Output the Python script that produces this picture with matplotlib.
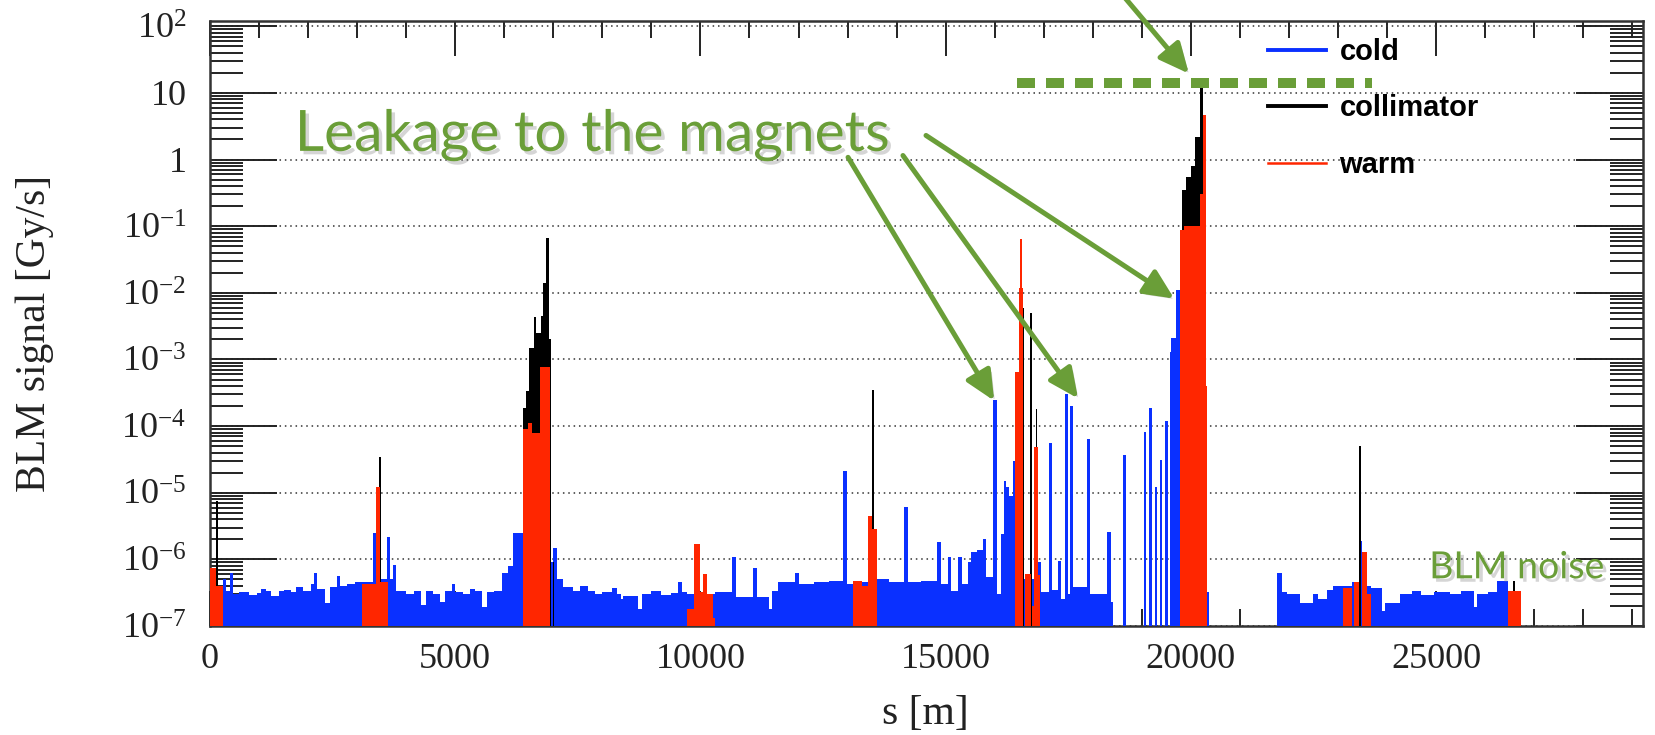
import numpy as np
import matplotlib
matplotlib.use("Agg")
import matplotlib.pyplot as plt
import matplotlib.patheffects as pe
from matplotlib.ticker import FixedLocator, FixedFormatter, LogLocator, MultipleLocator, NullFormatter
from matplotlib.lines import Line2D

# BLM signal along the ring, (left edge of bin [m], signal [Gy/s]); 0 = no monitor
cold_bins = [
    (0, 3.0e-7), (270, 5.0e-7), (330, 3.4e-7), (400, 6.3e-7), (470, 3.0e-7), (600, 3.2e-7), (800, 2.9e-7), (950, 3.1e-7), (1050, 3.6e-7), (1150, 3.3e-7),
    (1250, 2.8e-7), (1400, 3.4e-7), (1500, 3.5e-7), (1650, 3.2e-7), (1750, 3.8e-7), (1900, 3.4e-7), (2050, 4.2e-7), (2120, 6.2e-7), (2180, 3.6e-7), (2350, 2.2e-7),
    (2450, 3.9e-7), (2580, 5.6e-7), (2660, 4.0e-7), (2800, 4.3e-7), (2950, 4.6e-7), (3100, 4.5e-7), (3330, 2.5e-6), (3400, 5.0e-7), (3600, 2.2e-6), (3680, 5.0e-7),
    (3730, 8.3e-7), (3800, 3.3e-7), (4000, 3.0e-7), (4150, 3.4e-7), (4300, 2.1e-7), (4400, 3.4e-7), (4550, 3.0e-7), (4700, 2.3e-7), (4800, 3.4e-7), (4930, 4.2e-7),
    (5000, 3.2e-7), (5150, 3.0e-7), (5300, 3.6e-7), (5400, 3.3e-7), (5550, 1.9e-7), (5650, 3.2e-7), (5800, 3.4e-7), (5950, 6.3e-7), (6080, 8.0e-7), (6180, 2.5e-6),
    (6390, 2.0e-6), (6940, 9.0e-7), (7000, 1.5e-6), (7080, 5.0e-7), (7200, 3.8e-7), (7400, 3.3e-7), (7550, 4.0e-7), (7700, 3.4e-7), (7850, 3.0e-7), (8000, 3.2e-7),
    (8190, 3.7e-7), (8300, 3.0e-7), (8380, 2.5e-7), (8420, 2.8e-7), (8730, 1.8e-7), (8810, 3.0e-7), (9000, 3.3e-7), (9200, 2.9e-7), (9400, 3.1e-7), (9550, 4.5e-7),
    (9630, 3.2e-7), (9730, 3.0e-7), (9865, 1.7e-6), (9985, 3.0e-7), (10290, 3.2e-7), (10640, 1.07e-6), (10720, 2.7e-7), (11070, 7.4e-7), (11150, 2.7e-7), (11390, 1.8e-7),
    (11460, 3.3e-7), (11580, 4.5e-7), (11930, 6.2e-7), (12010, 4.3e-7), (12320, 4.5e-7), (12630, 4.7e-7), (12900, 2.1e-5), (12990, 4.3e-7), (13120, 4.5e-7), (13600, 5.0e-7),
    (13850, 4.6e-7), (14150, 6.1e-6), (14240, 4.5e-7), (14500, 4.8e-7), (14820, 1.8e-6), (14900, 4.3e-7), (15040, 1.07e-6), (15100, 3.4e-7), (15260, 1.07e-6), (15330, 4.3e-7),
    (15460, 9.0e-7), (15520, 1.3e-6), (15640, 1.4e-6), (15760, 2.0e-6), (15830, 5.5e-7), (15975, 2.5e-4), (16040, 3.0e-7), (16130, 2.4e-6), (16190, 1.5e-5), (16240, 1.2e-5),
    (16300, 9.0e-6), (16365, 3.0e-5), (16420, 5.0e-7), (16890, 9.0e-7), (16950, 3.2e-7), (17100, 5.6e-5), (17160, 3.5e-7), (17300, 9.4e-7), (17360, 2.5e-7), (17435, 3.0e-4),
    (17490, 3.0e-7), (17535, 2.0e-4), (17600, 3.9e-7), (17880, 6.4e-5), (17935, 3.0e-7), (18300, 2.6e-6), (18365, 2.3e-7), (18410, 0), (18610, 3.7e-5), (18675, 0),
    (19035, 8.1e-5), (19080, 0), (19150, 1.9e-4), (19200, 0), (19260, 1.2e-5), (19310, 0), (19370, 3.1e-5), (19420, 0), (19470, 1.2e-4), (19535, 0),
    (19565, 1.3e-3), (19605, 2.1e-3), (19700, 1.1e-2), (19780, 1.0e-2), (20300, 3.2e-7), (20370, 0), (21750, 6.3e-7), (21850, 3.2e-7), (21955, 3.0e-7), (22225, 2.2e-7),
    (22500, 3.0e-7), (22600, 2.5e-7), (22770, 3.5e-7), (22905, 4.0e-7), (23110, 4.0e-7), (23280, 4.5e-7), (23330, 4.0e-7), (23420, 1.9e-6), (23480, 4.0e-7), (23670, 3.7e-7),
    (23890, 1.7e-7), (23960, 2.2e-7), (24270, 3.0e-7), (24500, 3.3e-7), (24700, 2.9e-7), (24950, 3.2e-7), (25290, 3.0e-7), (25500, 3.4e-7), (25770, 1.9e-7), (25840, 3.0e-7),
    (26050, 3.2e-7), (26250, 4.8e-7), (26475, 3.0e-7),
]

coll_bins = [
    (0, 0), (130, 7.5e-6), (170, 0), (3450, 3.4e-5), (3490, 0),
    (6390, 1.9e-4), (6440, 3.4e-4), (6500, 1.5e-3), (6600, 4.3e-3), (6650, 2.5e-3), (6740, 4.5e-3), (6800, 1.4e-2), (6860, 6.6e-2), (6920, 2.0e-3), (6950, 0),
    (6990, 9.0e-7), (7020, 0), (13490, 3.5e-4), (13530, 0),
    (16560, 6.0e-3), (16590, 0), (16720, 5.0e-3), (16760, 0), (16840, 1.8e-4), (16870, 0),
    (19820, 0.35), (19910, 0.55), (20000, 0.8), (20090, 2.2), (20180, 12.0), (20250, 0),
    (23430, 5.1e-5), (23470, 0), (26560, 4.8e-7), (26600, 0),
]

warm_bins = [
    (0, 7.4e-7), (130, 4.0e-7), (270, 0),
    (3090, 4.2e-7), (3380, 1.2e-5), (3460, 4.5e-7), (3620, 0),
    (6390, 9.0e-5), (6480, 1.1e-4), (6560, 8.0e-5), (6720, 7.6e-4), (6940, 0),
    (9730, 1.8e-7), (9865, 1.7e-6), (9985, 3.2e-7), (10060, 6.0e-7), (10140, 3.0e-7), (10250, 1.3e-7), (10300, 0),
    (13120, 4.7e-7), (13300, 4.0e-7), (13420, 4.4e-6), (13500, 2.9e-6), (13600, 0),
    (16420, 6.5e-4), (16490, 1.2e-2), (16510, 6.4e-2), (16560, 1.2e-2), (16580, 0), (16620, 6.0e-7), (16740, 0),
    (16760, 2.0e-7), (16800, 4.8e-5), (16880, 5.9e-7), (16930, 0),
    (19780, 0.087), (19870, 0.1), (20180, 0.3), (20240, 4.6), (20300, 4.0e-4), (20330, 0),
    (23110, 3.7e-7), (23280, 0), (23330, 4.5e-7), (23420, 0), (23480, 1.3e-6), (23590, 3.0e-7), (23670, 0),
    (26475, 3.3e-7),
]
ring_end = 26730

series_names = ["cold", "collimator", "warm"]
series_colors = ["#0a30ff", "#000000", "#ff2600"]

y_ticks = [1e-7, 1e-6, 1e-5, 1e-4, 1e-3, 1e-2, 1e-1, 1, 10, 100]
y_tick_labels = [r"$\mathregular{10^{-7}}$", r"$\mathregular{10^{-6}}$", r"$\mathregular{10^{-5}}$",
                 r"$\mathregular{10^{-4}}$", r"$\mathregular{10^{-3}}$", r"$\mathregular{10^{-2}}$",
                 r"$\mathregular{10^{-1}}$", "1", "10", r"$\mathregular{10^{2}}$"]
x_ticks = [0, 5000, 10000, 15000, 20000, 25000]
x_tick_labels = ["0", "5000", "10000", "15000", "20000", "25000"]

# annotation positions (s [m], Gy/s)
leak_text_pos = (1730, 1.35)
leak_arrows = [((13010, 1.08), (15990, 2.4e-4)),
               ((14130, 1.15), (17700, 2.6e-4)),
               ((14600, 2.3), (19660, 8.2e-3))]
top_arrow = ((18600, 300), (19960, 19.5))
limit_level = 14.0
limit_range = (16460, 23700)
noise_text_pos = (24860, 5.2e-7)

GREEN = "#6a9e38"
SERIF = "Liberation Serif"


def to_steps(bins, end):
    edges = [b[0] for b in bins] + [end]
    vals = np.array([b[1] for b in bins], dtype=float)
    vals[vals <= 0] = 1e-12  # no monitor -> below the axis
    return np.array(edges, dtype=float), vals


plt.rcParams["mathtext.fontset"] = "custom"
plt.rcParams["mathtext.rm"] = SERIF

fig = plt.figure(figsize=(16.56, 7.35), dpi=100)
ax = fig.add_axes([210 / 1656, 1 - 626 / 735, 1433 / 1656, 605 / 735])
ax.set_yscale("log")

for bins, col in zip([cold_bins, coll_bins, warm_bins], series_colors):
    edges, vals = to_steps(bins, ring_end)
    ax.stairs(vals, edges, fill=True, baseline=1e-12, color=col, lw=0.6, zorder=3)

ax.set_xlim(0, 29220)
ax.set_ylim(1e-7, 120)

ax.yaxis.set_major_locator(FixedLocator(y_ticks))
ax.yaxis.set_major_formatter(FixedFormatter(y_tick_labels))
ax.yaxis.set_minor_locator(LogLocator(base=10, subs=np.arange(2, 10), numticks=30))
ax.yaxis.set_minor_formatter(NullFormatter())
ax.xaxis.set_major_locator(FixedLocator(x_ticks))
ax.xaxis.set_major_formatter(FixedFormatter(x_tick_labels))
ax.xaxis.set_minor_locator(MultipleLocator(1000))

ax.tick_params(which="both", direction="in", top=True, right=True, width=1.4, color="#222222")
ax.tick_params(axis="y", which="major", length=48, pad=17)
ax.tick_params(axis="y", which="minor", length=24)
ax.tick_params(axis="x", which="major", length=25, pad=12)
ax.tick_params(axis="x", which="minor", length=12)
for lab in ax.get_xticklabels() + ax.get_yticklabels():
    lab.set_fontfamily(SERIF)
    lab.set_fontsize(26)
    lab.set_color("#222222")

ax.yaxis.grid(True, which="major", linestyle=(0, (1, 2.5)), color="#333333", lw=1.1)
ax.set_axisbelow(True)
for sp in ax.spines.values():
    sp.set_linewidth(1.8)
    sp.set_color("#333333")

fig.text(35 / 1656, 1 - 333 / 735, "BLM signal [Gy/s]", rotation=90, ha="center", va="center",
         family=SERIF, fontsize=30, color="#222222")
fig.text(925 / 1656, 1 - 714 / 735, "s [m]", ha="center", va="center",
         family=SERIF, fontsize=30, color="#222222")

# legend
handles = [Line2D([], [], color=c, lw=lw) for c, lw in zip(series_colors, [2.8, 2.8, 1.8])]
leg = ax.legend(handles, series_names, loc="upper left", bbox_to_anchor=(0.72, 1.015),
                frameon=False, handlelength=2.0, handletextpad=0.45, labelspacing=0.97,
                prop={"family": "Liberation Sans", "weight": "bold", "size": 21})
leg.set_zorder(6)

shadow = [pe.SimplePatchShadow(offset=(2.5, -2.5), shadow_rgbFace="#888888", alpha=0.35), pe.Normal()]

ax.text(*leak_text_pos, "Leakage to the magnets", family="Lato", fontsize=41, color=GREEN,
        ha="left", va="baseline", zorder=7, path_effects=shadow)
ax.text(*noise_text_pos, "BLM noise", family="Lato", fontsize=27, color=GREEN,
        ha="left", va="baseline", zorder=7, path_effects=shadow)

arrow_kw = dict(arrowstyle="-|>,head_length=0.9,head_width=0.42", color=GREEN, lw=3.6,
                mutation_scale=20, shrinkA=0, shrinkB=0, path_effects=shadow)
for start, tip in leak_arrows:
    ax.annotate("", xy=tip, xytext=start, arrowprops=arrow_kw, zorder=7)
ax.annotate("", xy=top_arrow[1], xytext=top_arrow[0], arrowprops=arrow_kw, zorder=7,
            annotation_clip=False)

ax.plot(limit_range, [limit_level, limit_level], color=GREEN, lw=7.2, ls=(0, (1.8, 1.1)),
        solid_capstyle="butt", zorder=7, path_effects=shadow)

fig.savefig("out.png", dpi=100)
